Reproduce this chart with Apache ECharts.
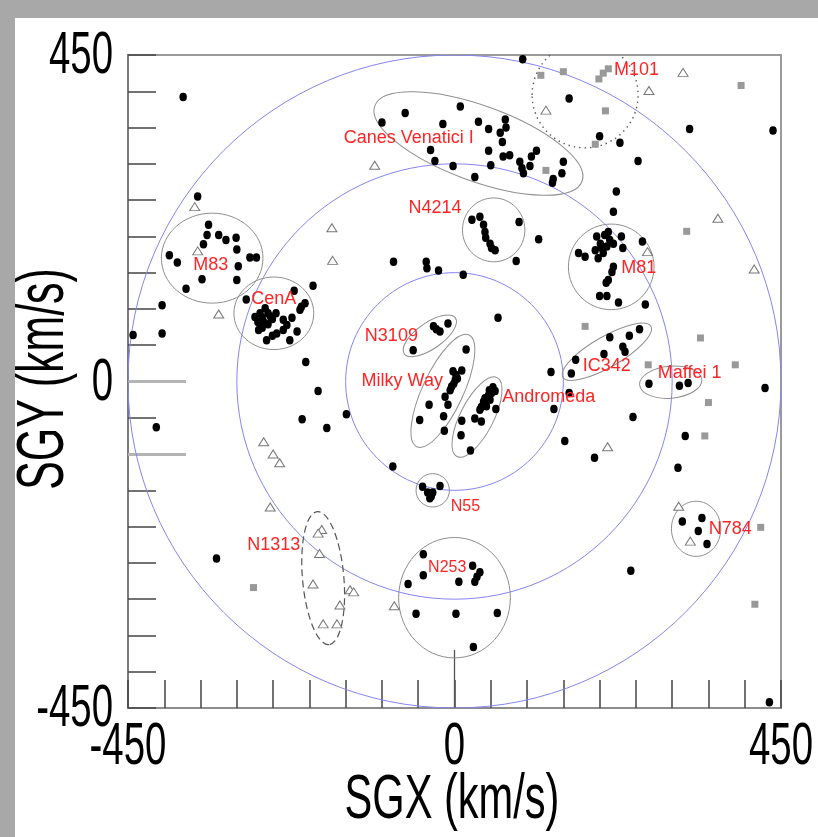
<!DOCTYPE html>
<html>
<head>
<meta charset="utf-8">
<script src="https://cdn.jsdelivr.net/npm/echarts@6/dist/echarts.min.js"></script>
<style>
  html, body { margin: 0; padding: 0; background: #a8a8a8; }
  #panel { position: absolute; left: 15px; top: 18px; width: 803px; height: 819px; background: #ffffff; }
  #chart { position: absolute; left: 0; top: 0; width: 818px; height: 837px; }
</style>
</head>
<body>
<div id="panel"></div>
<div id="chart"></div>
<script>
// ---------- data (km/s, supergalactic coordinates) ----------
const xTickLabels = [-450, 0, 450];
const yTickLabels = [-450, 0, 450];
const ringRadii = [150, 300, 450];

const blackDots = [
  [-374,392],[-354,255],
  [-339,216],[-341,202],[-346,189],[-325,202],[-315,195],[-301,198],[-300,182],[-282,171],[-273,171],[-393,174],[-382,164],[-298,159],[-348,141],[-300,140],[-370,128],
  [-84,165],[-39,165],[-38,156],[-22,153],[-195,132],[-221,125],[-287,113],[-403,105],[-403,66],[-443,64],
  [-275,89],[-270,71],[-259,57],[-245,66],[-236,85],[-231,78],[-217,69],[-227,57],[-257,94],[-261,101],[-211,103],[-206,108],[-213,99],[-268,94],[-265,88],[-254,90],[-263,82],[-257,79],[-251,86],[-271,82],[-246,94],[-265,74],[-251,63],[-236,71],[-224,88],
  [-100,357],[-68,370],[-16,355],[-33,319],[-27,304],[8,379],[33,358],[47,348],[70,361],[71,350],[63,343],[66,330],[47,318],[67,310],[76,312],[50,298],[90,303],[93,294],[104,297],[113,318],[106,310],[95,287],[150,303],[148,287],[136,279],[135,274],[28,282],[-2,297],
  [94,444],[158,390],[200,338],[228,329],[253,304],[324,348],[439,346],[223,262],[219,234],
  [24,223],[35,227],[40,216],[42,206],[43,198],[49,190],[51,184],[56,181],[89,220],[85,166],[116,196],
  [196,200],[207,202],[214,195],[201,190],[210,186],[219,190],[194,181],[205,177],[198,170],[230,200],[232,184],[259,193],[171,177],[180,172],[219,158],[217,151],[212,140],[209,136],[200,118],[210,118],[226,109],[263,106],[212,206],[203,184],
  [12,147],[60,88],
  [-29,76],[-20,69],[-9,80],[-57,43],[-25,72],
  [255,72],[241,63],[214,61],[232,48],[235,41],[206,38],[167,30],[161,11],
  [133,13],[158,-16],[137,-38],[246,-49],[152,-82],[193,-105],[318,-75],[308,-119],[428,-9],
  [268,-3],[310,-6],[322,-2],
  [314,-193],[341,-188],[336,-206],[348,-224],
  [-205,27],[-188,-13],[-210,-52],[-176,-64],[-149,-45],[-411,-63],[-85,-117],[-328,-244],
  [16,44],[10,15],[-2,14],[1,2],[-4,-7],[4,4],[-6,-12],[-13,-21],[-9,-32],[-35,-32],[-15,-48],[-48,-53],[-14,-68],[2,9],[-1,-3],
  [53,-8],[47,-19],[42,-23],[49,-25],[37,-35],[35,-39],[44,-34],[57,-38],[28,-51],[37,-55],[10,-54],[9,-74],[22,-95],[51,-16],[40,-28],[56,-13],[48,-12],
  [-44,-145],[-37,-153],[-34,-161],[-30,-153],[-20,-144],[-32,-158],
  [-43,-238],[-43,-267],[-64,-279],[-53,-320],[25,-254],[35,-263],[28,-276],[6,-276],[2,-320],[59,-319],[26,-366],[31,-269],
  [243,-261],[434,-442]
];

const greySquares = [
  [119,422],[150,427],[199,417],[205,425],[212,431],[208,373],[194,327],[126,291],[395,408],[320,207],
  [180,76],[339,60],[267,23],[387,23],[350,-29],[345,-75],[422,-201],[-277,-284],[414,-307]
];

const openTriangles = [
  [-110,298],[-358,241],[-354,180],[-169,212],[-168,167],[-325,93],[126,374],[315,426],[268,401],[363,225],
  [413,155],[266,179],[-263,-83],[-250,-100],[-241,-112],[-254,-173],[-183,-204],[-188,-209],[-186,-237],
  [-195,-279],[-144,-287],[-139,-290],[-158,-308],[-181,-334],[-162,-334],[-83,-309],[211,-90],[309,-172],[325,-220]
];

// group outlines: [centre X, centre Y, semi-axis a, semi-axis b, tilt in degrees]
const groupNames = ['Canes Venatici I','M101','N4214','M83','M81','CenA','N3109','Milky Way','Andromeda','IC342','Maffei 1','N55','N784','N253','N1313'];
const groupEllipses = [
  [33,328,152,52,-20],[180,395,73,73,0],[54,209,43,44,0],[-334,170,70,62,0],[216,158,59,59,0],
  [-249,94,55,50,0],[-34,63,43,18,35],[-16,-13,85,28,65],[31,-49,61,23,63],[210,41,70,21,30],
  [298,-1,43,22,5],[-30,-150,23,23,0],[333,-203,34,38,0],[0,-298,77,83,0],[-181,-271,92,28.5,95]
];
const labelPositions = [
  [-63,336],[251,429],[-27,239],[-336,161],[254,156],[-249,114],[-87,63],[-72,1],[130,-21],
  [210,21],[324,12],[15,-173],[380,-203],[-10,-256],[-249,-225]
];
const xAxisTitle = 'SGX (km/s)';
const yAxisTitle = 'SGY (km/s)';

// styles
const groupBorders = ['solid','dotted','solid','solid','solid','solid','solid','solid','solid','solid','solid','solid','solid','solid','dashed'];
const labelFontSizes = [18,18,18,18,18,18,18,18,18,18,18,16,18,16,18];
const AXIS_FONT = "'Liberation Sans', Arial, sans-serif";
const AXIS_SQUEEZE = 0.64;

const chart = echarts.init(document.getElementById('chart'), null, { renderer: 'canvas' });

function ellipseItem(strokeFn) {
  return function (params, api) {
    const c = api.coord([api.value(0), api.value(1)]);
    const s = api.size([api.value(2), api.value(3)]);
    const st = strokeFn(params.dataIndex);
    return {
      type: 'ellipse',
      x: c[0], y: c[1],
      rotation: api.value(4) * Math.PI / 180,
      shape: { cx: 0, cy: 0, rx: s[0], ry: s[1] },
      style: Object.assign({ fill: null }, st)
    };
  };
}

function tickText(labels, dx, dy, align) {
  return function (params, api) {
    const c = api.coord([api.value(0), api.value(1)]);
    return {
      type: 'text', x: c[0] + dx, y: c[1] + dy, scaleX: AXIS_SQUEEZE,
      style: {
        text: String(labels[params.dataIndex]), fill: '#000',
        fontSize: 60, fontFamily: AXIS_FONT, align: align, verticalAlign: 'middle'
      }
    };
  };
}

const option = {
  animation: false,
  grid: {
    left: 128, top: 55, width: 653, height: 653, containLabel: false, outerBoundsMode: 'none',
    show: true, borderColor: '#9a9a9a', borderWidth: 2, backgroundColor: '#ffffff'
  },
  xAxis: [
    {
      type: 'value', min: -450, max: 450, interval: 50, position: 'bottom',
      axisLine: { show: true, onZero: false, lineStyle: { color: '#8c8c8c', width: 2 } },
      axisTick: { show: true, inside: true, length: 28, lineStyle: { color: '#444', width: 1.5 } },
      axisLabel: { show: false },
      splitLine: { show: false }
    },
    {
      type: 'value', min: -450, max: 450, position: 'bottom', gridIndex: 0,
      axisLine: { show: false, onZero: false },
      axisTick: { show: true, inside: true, length: 58, customValues: [0], lineStyle: { color: '#555', width: 1.3 } },
      axisLabel: { show: false }, splitLine: { show: false }
    }
  ],
  yAxis: [
    {
      type: 'value', min: -450, max: 450, interval: 50, position: 'left',
      axisLine: { show: true, onZero: false, lineStyle: { color: '#7a7a7a', width: 2 } },
      axisTick: { show: true, inside: true, length: 28, lineStyle: { color: '#444', width: 1.5 } },
      axisLabel: { show: false },
      splitLine: { show: false }
    },
    {
      type: 'value', min: -450, max: 450, position: 'left', gridIndex: 0,
      axisLine: { show: false, onZero: false },
      axisTick: { show: true, inside: true, length: 58, customValues: [0, -100], lineStyle: { color: '#b4b4b4', width: 3 } },
      axisLabel: { show: false }, splitLine: { show: false }
    }
  ],
  graphic: [
    {
      type: 'text', x: 452, y: 801, scaleX: 0.66, z: 10,
      style: { text: xAxisTitle, fill: '#000', fontSize: 63, fontFamily: AXIS_FONT, align: 'center', verticalAlign: 'middle' }
    },
    {
      type: 'text', x: 45, y: 379, scaleX: 0.64, rotation: Math.PI / 2, z: 10,
      style: { text: yAxisTitle, fill: '#000', fontSize: 67, fontFamily: AXIS_FONT, align: 'center', verticalAlign: 'middle' }
    }
  ],
  series: [
    {
      type: 'custom', name: 'rings', clip: true, z: 1, silent: true,
      data: ringRadii.map(r => [0, 0, r, r, 0]),
      renderItem: ellipseItem(() => ({ stroke: '#8585f2', lineWidth: 1 }))
    },
    {
      type: 'custom', name: 'groups', clip: true, z: 2, silent: true,
      data: groupEllipses,
      renderItem: ellipseItem(i => {
        const b = groupBorders[i];
        if (b === 'dotted') return { stroke: '#555', lineWidth: 1.4, lineDash: [1.4, 4] };
        if (b === 'dashed') return { stroke: '#555', lineWidth: 1.2, lineDash: [7, 4] };
        return { stroke: '#8f8f8f', lineWidth: 1 };
      })
    },
    {
      type: 'scatter', name: 'triangles', z: 3, symbol: 'triangle', symbolSize: [10, 8],
      itemStyle: { color: '#ffffff', borderColor: '#777', borderWidth: 1, opacity: 1 },
      data: openTriangles
    },
    {
      type: 'scatter', name: 'squares', z: 3, symbol: 'rect', symbolSize: 7,
      itemStyle: { color: '#999999', opacity: 1 },
      data: greySquares
    },
    {
      type: 'scatter', name: 'dots', z: 4, symbol: 'circle', symbolSize: [7.5, 8.5],
      itemStyle: { color: '#000000', opacity: 1 },
      data: blackDots
    },
    {
      type: 'custom', name: 'labels', z: 6, silent: true,
      data: labelPositions,
      renderItem: function (params, api) {
        const c = api.coord([api.value(0), api.value(1)]);
        return {
          type: 'text', x: c[0], y: c[1],
          style: {
            text: groupNames[params.dataIndex], fill: '#ff2424',
            fontSize: labelFontSizes[params.dataIndex], fontFamily: "'Liberation Sans', Arial, sans-serif",
            align: 'center', verticalAlign: 'middle'
          }
        };
      }
    },
    {
      type: 'custom', name: 'xTickLabels', z: 6, silent: true, clip: false,
      data: xTickLabels.map(v => [v, -450]),
      renderItem: tickText(xTickLabels, 0, 39, 'center')
    },
    {
      type: 'custom', name: 'yTickLabels', z: 6, silent: true, clip: false,
      data: yTickLabels.map(v => [-450, v]),
      renderItem: tickText(yTickLabels, -15, 1.5, 'right')
    }
  ]
};
chart.setOption(option);
</script>
</body>
</html>
